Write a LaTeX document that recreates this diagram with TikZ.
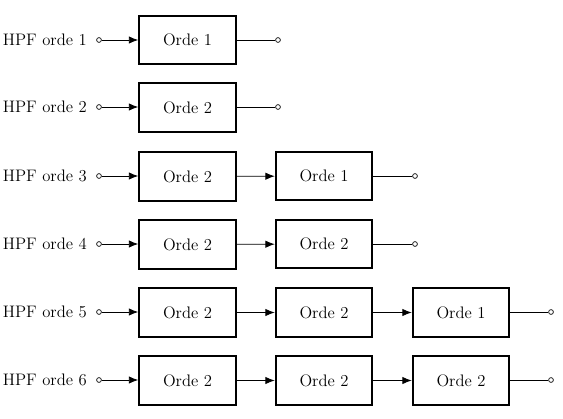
\documentclass[tikz,border=0pt]{standalone}
\usetikzlibrary{arrows.meta}
\begin{document}
\begin{tikzpicture}[x=0.75pt,y=-0.75pt,
    blok/.style={draw,line width=1.4pt,minimum width=72.5pt,minimum height=36.5pt,inner sep=0pt,font=\fontsize{12.5}{15}\selectfont},
    pin/.style={draw,circle,inner sep=0pt,minimum size=3.6pt,line width=0.5pt,fill=white},
    label/.style={anchor=east,inner sep=0pt,font=\fontsize{12.5}{15}\selectfont},
    >={Latex[length=7pt,width=5.5pt]}]
      \useasboundingbox (0,0) rectangle (563,418);
      \draw
        (87,40) node[label] (l1){HPF orde 1}
        (87,107) node[label] (l2){HPF orde 2}
        (87,176) node[label] (l3){HPF orde 3}
        (87,244) node[label] (l4){HPF orde 4}
        (87,312) node[label] (l5){HPF orde 5}
        (87,380) node[label] (l6){HPF orde 6};
      \draw
        (99,40) node[pin] (i1){}
        (99,107) node[pin] (i2){}
        (99,176) node[pin] (i3){}
        (99,244) node[pin] (i4){}
        (99,312) node[pin] (i5){}
        (99,380) node[pin] (i6){};
      \draw
        (187.5,40) node[blok] (a1){Orde 1}
        (187.5,107.5) node[blok] (a2){Orde 2}
        (187.5,176.5) node[blok] (a3){Orde 2}
        (324,176) node[blok] (b3){Orde 1}
        (187.5,244.5) node[blok] (a4){Orde 2}
        (324,244) node[blok] (b4){Orde 2}
        (187.5,312.5) node[blok] (a5){Orde 2}
        (324,312.5) node[blok] (b5){Orde 2}
        (461,312.5) node[blok] (c5){Orde 1}
        (187.5,380.5) node[blok] (a6){Orde 2}
        (324,380.5) node[blok] (b6){Orde 2}
        (461,380.5) node[blok] (c6){Orde 2};
      \draw
        (278,40) node[pin] (o1){}
        (278,107) node[pin] (o2){}
        (415,176) node[pin] (o3){}
        (415,244) node[pin] (o4){}
        (551,312) node[pin] (o5){}
        (551,380) node[pin] (o6){};
      \begin{scope}[->,line width=0.6pt]
        \draw (i1) -- (i1 -| a1.west);
        \draw (i2) -- (i2 -| a2.west);
        \draw (i3) -- (i3 -| a3.west);
        \draw (i4) -- (i4 -| a4.west);
        \draw (i5) -- (i5 -| a5.west);
        \draw (i6) -- (i6 -| a6.west);
        \draw (a3) -- (b3);
        \draw (a4) -- (b4);
        \draw (a5) -- (b5);
        \draw (b5) -- (c5);
        \draw (a6) -- (b6);
        \draw (b6) -- (c6);
      \end{scope}
      \begin{scope}[-,line width=0.6pt]
        \draw (a1.east |- o1) -- (o1);
        \draw (a2.east |- o2) -- (o2);
        \draw (b3.east |- o3) -- (o3);
        \draw (b4.east |- o4) -- (o4);
        \draw (c5.east |- o5) -- (o5);
        \draw (c6.east |- o6) -- (o6);
      \end{scope}
    \end{tikzpicture}
\end{document}
